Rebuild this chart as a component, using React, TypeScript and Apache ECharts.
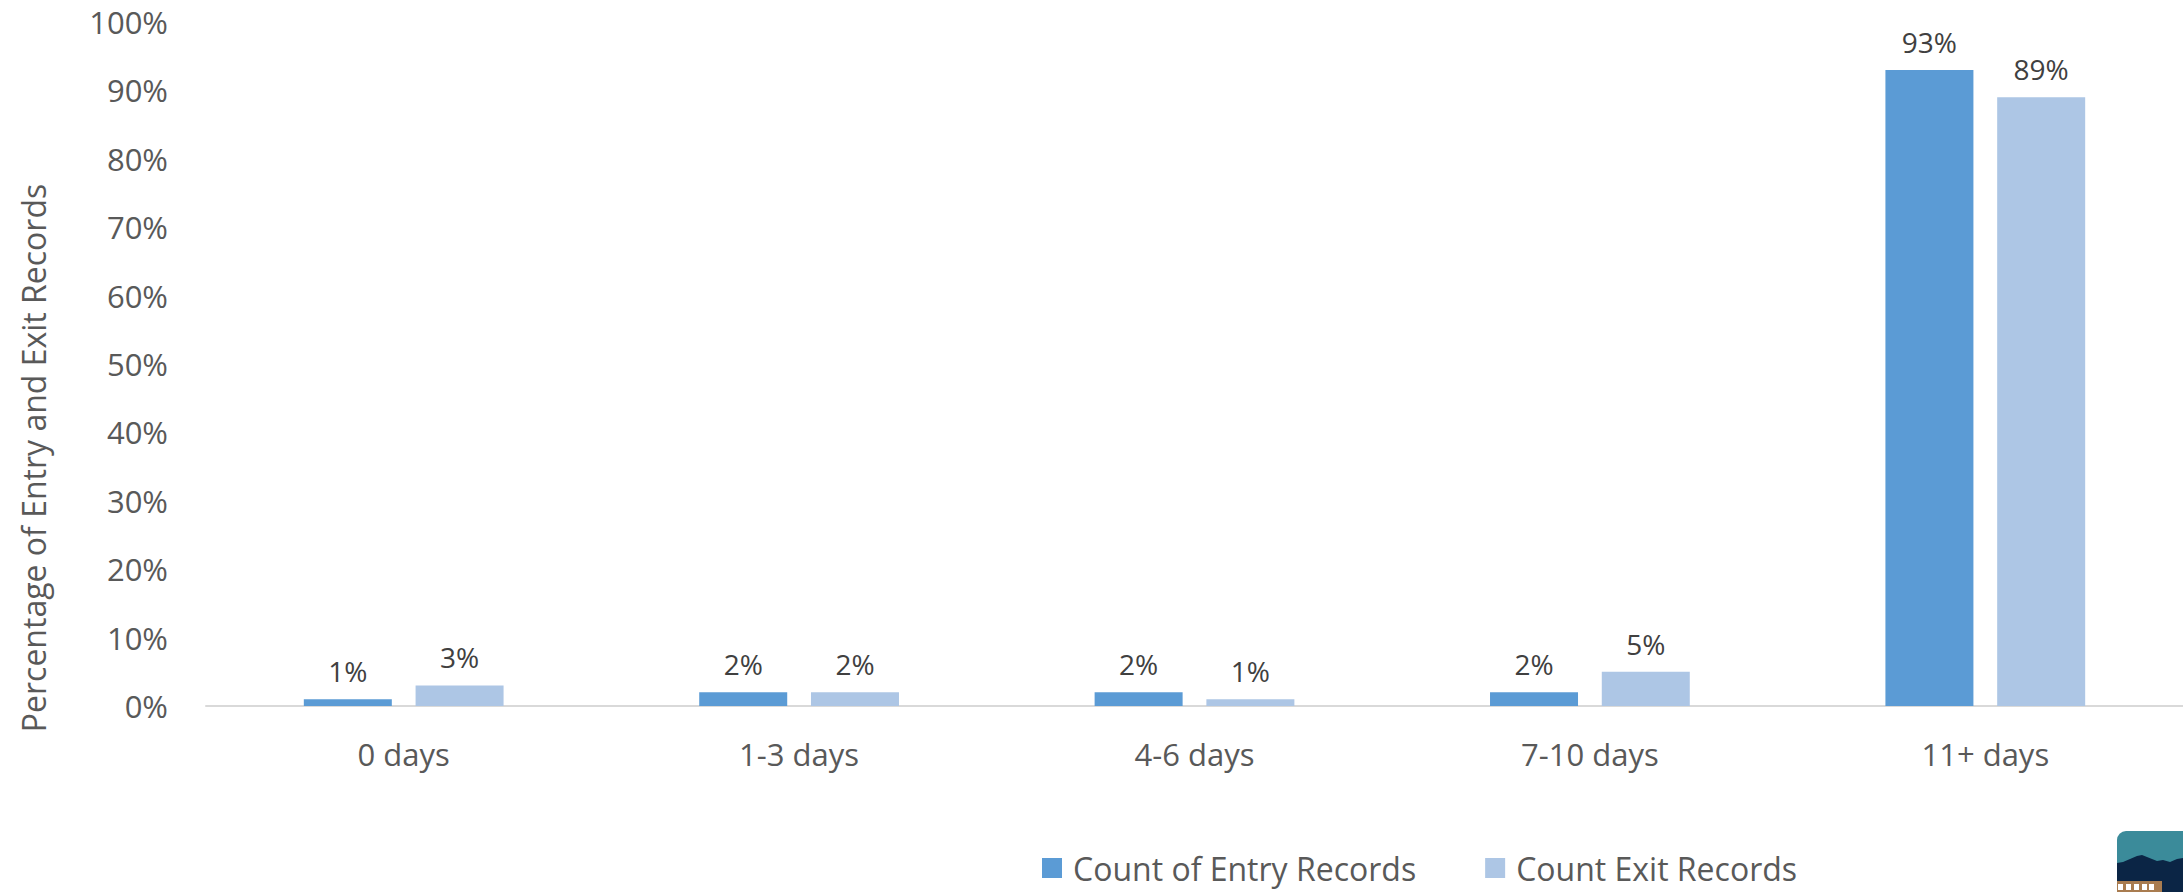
import React, { useEffect, useRef } from "react";
import * as echarts from "echarts";

const categories = ["0 days", "1-3 days", "4-6 days", "7-10 days", "11+ days"];
const entryValues = [1, 2, 2, 2, 93];
const exitValues = [3, 2, 1, 5, 89];
const seriesNames = ["Count of Entry Records", "Count Exit Records"];
const yTitle = "Percentage of Entry and Exit Records";

const FONT = "'Open Sans', 'Noto Sans', sans-serif";

export default function App() {
  const ref = useRef<HTMLDivElement>(null);
  useEffect(() => {
    document.body.style.margin = "0";
    document.body.style.overflow = "hidden";
    const chart = echarts.init(ref.current!, null, { renderer: "svg" });
    const navyTop: number[][] = [
      [2117, 863], [2123, 862], [2130, 859], [2137, 856], [2142, 855], [2147, 857],
      [2152, 859], [2157, 861], [2163, 860], [2170, 862], [2177, 859], [2183, 858],
      [2183, 892], [2117, 892],
    ];
    const squares = [2118, 2126, 2134, 2142, 2149].map((x) => ({
      type: "rect",
      shape: { x, y: 884, width: 5, height: 6 },
      style: { fill: "#ffffff" },
      silent: true,
    }));
    chart.setOption({
      animation: false,
      backgroundColor: "#ffffff",
      textStyle: { fontFamily: FONT },
      grid: { left: 206, right: 0, top: 22, bottom: 186, containLabel: false },
      legend: {
        left: 1042,
        top: 852,
        padding: 0,
        itemWidth: 20,
        itemHeight: 20,
        itemGap: 69,
        icon: "rect",
        data: seriesNames,
        textStyle: {
          fontFamily: FONT,
          fontSize: 32,
          color: "#595959",
          lineHeight: 28,
          padding: [0, 0, 0, 6],
        },
      },
      xAxis: {
        type: "category",
        data: categories,
        axisLine: { show: true, lineStyle: { color: "#D9D9D9", width: 2 } },
        axisTick: { show: false },
        axisLabel: { fontFamily: FONT, fontSize: 31, color: "#595959", margin: 32 },
      },
      yAxis: {
        type: "value",
        min: 0,
        max: 100,
        interval: 10,
        axisLine: { show: false },
        axisTick: { show: false },
        splitLine: { show: false },
        axisLabel: {
          fontFamily: FONT,
          fontSize: 31,
          color: "#595959",
          margin: 38,
          formatter: "{value}%",
        },
      },
      series: [
        {
          name: seriesNames[0],
          type: "bar",
          data: entryValues,
          barWidth: 88,
          barGap: "27%",
          itemStyle: { color: "#5B9BD5" },
          label: {
            show: true,
            position: "top",
            distance: 14,
            formatter: "{c}%",
            fontFamily: FONT,
            fontSize: 28,
            color: "#404040",
          },
        },
        {
          name: seriesNames[1],
          type: "bar",
          data: exitValues,
          barWidth: 88,
          barGap: "27%",
          itemStyle: { color: "#ADC6E5" },
          label: {
            show: true,
            position: "top",
            distance: 14,
            formatter: "{c}%",
            fontFamily: FONT,
            fontSize: 28,
            color: "#404040",
          },
        },
      ],
      graphic: [
        {
          type: "text",
          x: 33,
          y: 458,
          rotation: Math.PI / 2,
          style: {
            text: yTitle,
            fontFamily: FONT,
            fontSize: 32,
            fill: "#595959",
            textAlign: "center",
            textVerticalAlign: "middle",
          },
        },
        {
          type: "group",
          silent: true,
          children: [
            {
              type: "rect",
              shape: { x: 2117, y: 831, width: 90, height: 90, r: 9 },
              style: { fill: "#3B8B9A" },
            },
            {
              type: "polygon",
              shape: { points: navyTop },
              style: { fill: "#0B2545" },
            },
            {
              type: "rect",
              shape: { x: 2117, y: 881, width: 45, height: 11 },
              style: { fill: "#A97C50" },
            },
            ...squares,
          ],
        },
      ],
    });
    return () => chart.dispose();
  }, []);
  return <div ref={ref} style={{ width: 2183, height: 892 }} />;
}
